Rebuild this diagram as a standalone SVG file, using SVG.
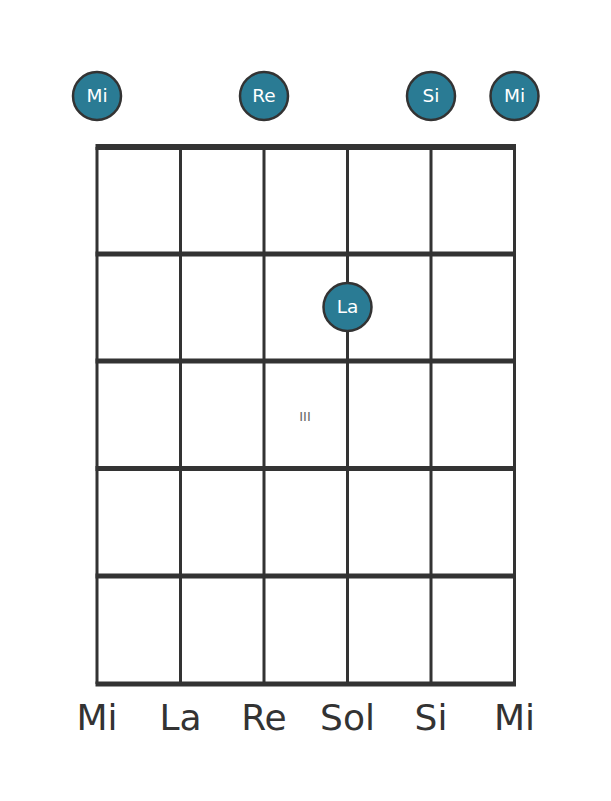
<svg xmlns="http://www.w3.org/2000/svg" width="611" height="801" viewBox="0 0 611 801">
<style>
.fret{stroke:#333;stroke-width:5}
.str{stroke:#333;stroke-width:3}
.dot{fill:#2a7b94;stroke:#333;stroke-width:2.5}
.dt{font-family:"DejaVu Sans",sans-serif;font-size:18.5px;fill:#fff;text-anchor:middle}
.lbl{font-family:"DejaVu Sans",sans-serif;font-size:36px;fill:#333;text-anchor:middle}
</style>
<rect width="611" height="801" fill="#fff"/>
<g id="connectors">
<line class="str" x1="97" y1="147" x2="97" y2="684"/>
<line class="str" x1="180.5" y1="147" x2="180.5" y2="684"/>
<line class="str" x1="264" y1="147" x2="264" y2="684"/>
<line class="str" x1="347.5" y1="147" x2="347.5" y2="684"/>
<line class="str" x1="431" y1="147" x2="431" y2="684"/>
<line class="str" x1="514.5" y1="147" x2="514.5" y2="684"/>
<line class="fret" x1="95.5" y1="147" x2="516" y2="147" style="stroke-width:6"/>
<line class="fret" x1="95.5" y1="254" x2="516" y2="254"/>
<line class="fret" x1="95.5" y1="361" x2="516" y2="361"/>
<line class="fret" x1="95.5" y1="468.5" x2="516" y2="468.5"/>
<line class="fret" x1="95.5" y1="576" x2="516" y2="576"/>
<line class="fret" x1="95.5" y1="684" x2="516" y2="684"/>
</g>
<text x="305" y="421" style="font-family:'DejaVu Sans',sans-serif;font-size:13px;fill:#666;text-anchor:middle">III</text>
<g id="open-mi1"><circle class="dot" cx="97" cy="96" r="24"/><text class="dt" x="97" y="102">Mi</text></g>
<g id="open-re"><circle class="dot" cx="264" cy="96" r="24"/><text class="dt" x="264" y="102">Re</text></g>
<g id="open-si"><circle class="dot" cx="431" cy="96" r="24"/><text class="dt" x="431" y="102">Si</text></g>
<g id="open-mi2"><circle class="dot" cx="514.5" cy="96" r="24"/><text class="dt" x="514.5" y="102">Mi</text></g>
<g id="fret-la"><circle class="dot" cx="347.5" cy="307" r="24"/><text class="dt" x="347.5" y="313">La</text></g>
<g id="labels">
<text class="lbl" x="97" y="730">Mi</text>
<text class="lbl" x="180.5" y="730">La</text>
<text class="lbl" x="264" y="730">Re</text>
<text class="lbl" x="347.5" y="730">Sol</text>
<text class="lbl" x="431" y="730">Si</text>
<text class="lbl" x="514.5" y="730">Mi</text>
</g>
</svg>
